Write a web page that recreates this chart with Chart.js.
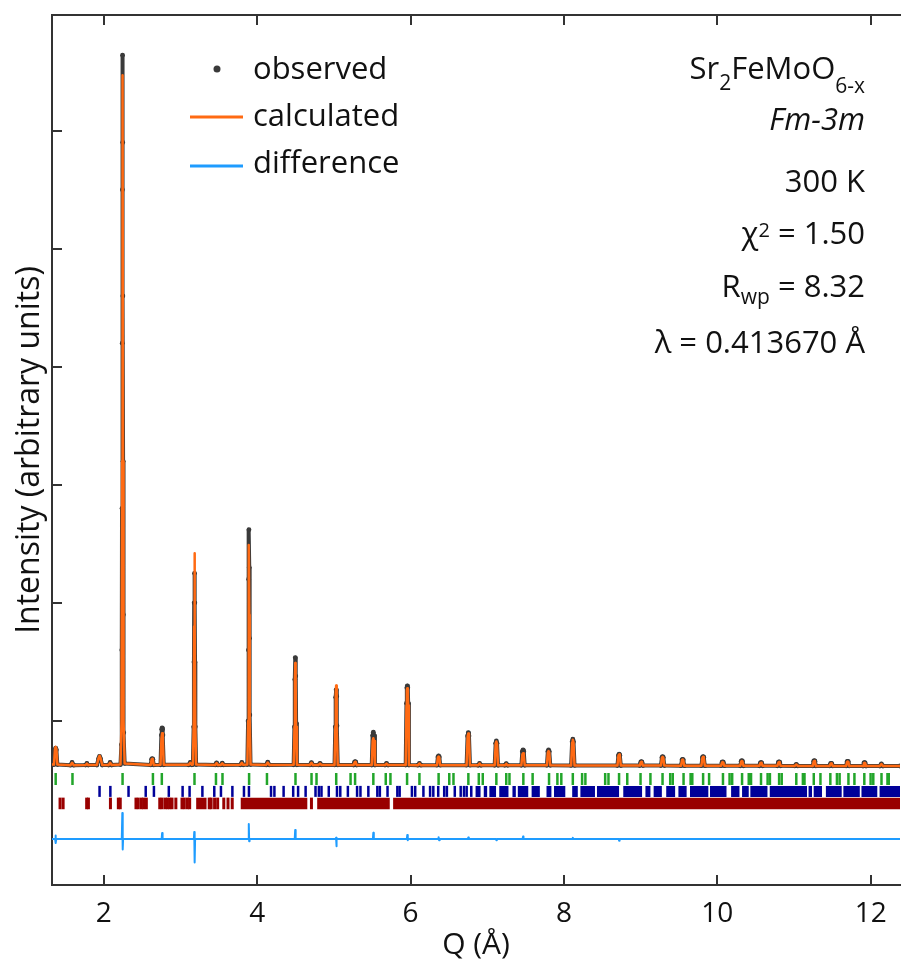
<!DOCTYPE html>
<html>
<head>
<meta charset="utf-8">
<script src="https://cdn.jsdelivr.net/npm/chart.js@4.4.0/dist/chart.umd.min.js"></script>
<style>
  html, body { margin: 0; padding: 0; background: #fff; overflow: hidden; }
  canvas { display: block; }
</style>
</head>
<body>
<canvas id="chart" width="909" height="966"></canvas>
<script>
// axis ranges and ticks
const qRange = [1.325, 12.383];
const yRange = [-0.39, 6.98];
const xTicks = [2, 4, 6, 8, 10, 12];
const yTicks = [1, 2, 3, 4, 5, 6];

const legendLabels = ['observed', 'calculated', 'difference'];

// [Q, intensity]
const observed = [
  [1.325,0.63],[1.351,0.63],[1.364,0.755],[1.373,0.77],[1.382,0.755],[1.395,0.63],
  [1.567,0.625],[1.587,0.648],[1.607,0.625],
  [1.762,0.626],[1.780,0.640],[1.798,0.626],
  [1.910,0.626],[1.932,0.68],[1.945,0.70],[1.958,0.68],[1.980,0.626],
  [2.063,0.626],[2.083,0.648],[2.103,0.626],
  [2.218,0.63],[2.230,0.80],[2.235,1.6],[2.238,2.8],[2.241,4.2],[2.243,5.5],[2.245,6.64],
  [2.247,5.9],[2.249,4.6],[2.252,3.2],[2.255,1.9],[2.260,0.9],[2.272,0.64],
  [2.612,0.627],[2.624,0.675],[2.632,0.68],[2.640,0.675],[2.652,0.627],
  [2.740,0.628],[2.751,0.88],[2.756,0.93],[2.761,0.94],[2.766,0.93],[2.771,0.88],[2.782,0.628],
  [3.108,0.628],[3.128,0.648],[3.148,0.628],
  [3.162,0.63],[3.172,0.95],[3.176,1.5],[3.179,2.0],[3.183,2.25],[3.187,2.0],[3.190,1.5],[3.194,0.95],[3.204,0.63],
  [3.453,0.627],[3.471,0.645],[3.489,0.627],
  [3.527,0.627],[3.545,0.642],[3.563,0.627],
  [3.782,0.628],[3.800,0.648],[3.818,0.628],
  [3.872,0.63],[3.882,1.0],[3.886,1.6],[3.889,2.2],[3.893,2.62],[3.897,2.3],[3.900,1.7],[3.904,1.05],[3.914,0.63],
  [4.118,0.627],[4.138,0.65],[4.158,0.627],
  [4.476,0.628],[4.486,0.95],[4.491,1.35],[4.497,1.536],[4.503,1.38],[4.508,0.98],[4.518,0.628],
  [4.688,0.627],[4.708,0.647],[4.728,0.627],
  [4.802,0.627],[4.820,0.640],[4.838,0.627],
  [5.009,0.627],[5.019,0.95],[5.024,1.2],[5.030,1.263],[5.036,1.21],[5.041,0.96],[5.051,0.627],
  [5.258,0.626],[5.270,0.650],[5.278,0.655],[5.286,0.650],[5.298,0.626],
  [5.494,0.626],[5.506,0.876],[5.515,0.904],[5.524,0.876],[5.536,0.626],
  [5.667,0.626],[5.687,0.640],[5.707,0.626],
  [5.937,0.626],[5.947,1.15],[5.952,1.28],[5.958,1.297],[5.964,1.28],[5.969,1.15],[5.979,0.626],
  [6.097,0.625],[6.116,0.640],[6.135,0.625],
  [6.345,0.625],[6.357,0.695],[6.366,0.703],[6.375,0.695],[6.387,0.625],
  [6.731,0.625],[6.744,0.873],[6.753,0.90],[6.762,0.873],[6.775,0.625],
  [6.882,0.624],[6.900,0.640],[6.918,0.624],
  [7.097,0.624],[7.110,0.81],[7.119,0.83],[7.128,0.81],[7.141,0.624],
  [7.230,0.624],[7.248,0.638],[7.266,0.624],
  [7.445,0.624],[7.458,0.741],[7.467,0.754],[7.476,0.741],[7.489,0.624],
  [7.778,0.624],[7.791,0.741],[7.800,0.754],[7.809,0.741],[7.822,0.624],
  [8.094,0.623],[8.107,0.823],[8.116,0.845],[8.125,0.823],[8.138,0.623],
  [8.698,0.622],[8.711,0.708],[8.720,0.718],[8.729,0.708],[8.742,0.622],
  [8.990,0.622],[9.002,0.650],[9.010,0.655],[9.018,0.650],[9.030,0.622],
  [9.265,0.622],[9.278,0.690],[9.287,0.697],[9.296,0.690],[9.309,0.622],
  [9.527,0.621],[9.540,0.670],[9.548,0.675],[9.556,0.670],[9.569,0.621],
  [9.793,0.621],[9.806,0.690],[9.815,0.697],[9.824,0.690],[9.837,0.621],
  [10.050,0.621],[10.062,0.650],[10.070,0.653],[10.078,0.650],[10.090,0.621],
  [10.300,0.620],[10.312,0.659],[10.320,0.663],[10.328,0.659],[10.340,0.620],
  [10.550,0.620],[10.562,0.644],[10.570,0.647],[10.578,0.644],[10.590,0.620],
  [10.785,0.620],[10.797,0.650],[10.805,0.653],[10.813,0.650],[10.825,0.620],
  [11.010,0.619],[11.030,0.632],[11.050,0.619],
  [11.245,0.619],[11.257,0.659],[11.265,0.663],[11.273,0.659],[11.285,0.619],
  [11.465,0.619],[11.477,0.638],[11.485,0.640],[11.493,0.638],[11.505,0.619],
  [11.680,0.619],[11.692,0.655],[11.700,0.658],[11.708,0.655],[11.720,0.619],
  [11.900,0.618],[11.912,0.644],[11.920,0.647],[11.928,0.644],[11.940,0.618],
  [12.120,0.618],[12.140,0.636],[12.160,0.618],
  [12.383,0.618]
];

const calculated = [
  [1.325,0.63],[1.351,0.63],[1.364,0.765],[1.373,0.78],[1.382,0.765],[1.395,0.63],
  [1.567,0.625],[1.587,0.646],[1.607,0.625],
  [1.762,0.626],[1.780,0.638],[1.798,0.626],
  [1.910,0.626],[1.932,0.685],[1.945,0.705],[1.958,0.685],[1.980,0.626],
  [2.063,0.626],[2.083,0.646],[2.103,0.626],
  [2.218,0.63],[2.232,1.0],[2.239,3.2],[2.245,6.47],[2.251,3.2],[2.258,1.0],[2.272,0.64],
  [2.612,0.627],[2.624,0.673],[2.632,0.678],[2.640,0.673],[2.652,0.627],
  [2.740,0.628],[2.752,0.85],[2.761,0.895],[2.770,0.85],[2.782,0.628],
  [3.108,0.628],[3.128,0.646],[3.148,0.628],
  [3.162,0.63],[3.173,1.0],[3.178,1.8],[3.183,2.42],[3.188,1.8],[3.193,1.0],[3.204,0.63],
  [3.453,0.627],[3.471,0.643],[3.489,0.627],
  [3.527,0.627],[3.545,0.640],[3.563,0.627],
  [3.782,0.628],[3.800,0.646],[3.818,0.628],
  [3.872,0.63],[3.883,1.0],[3.888,1.9],[3.893,2.49],[3.898,1.9],[3.903,1.0],[3.914,0.63],
  [4.118,0.627],[4.138,0.648],[4.158,0.627],
  [4.476,0.628],[4.487,0.95],[4.492,1.35],[4.497,1.49],[4.502,1.35],[4.507,0.95],[4.518,0.628],
  [4.688,0.627],[4.708,0.646],[4.728,0.627],
  [4.802,0.627],[4.820,0.639],[4.838,0.627],
  [5.009,0.627],[5.020,0.95],[5.025,1.23],[5.030,1.30],[5.035,1.23],[5.040,0.95],[5.051,0.627],
  [5.258,0.626],[5.270,0.648],[5.278,0.653],[5.286,0.648],[5.298,0.626],
  [5.494,0.626],[5.506,0.83],[5.515,0.853],[5.524,0.83],[5.536,0.626],
  [5.667,0.626],[5.687,0.639],[5.707,0.626],
  [5.937,0.626],[5.947,1.13],[5.952,1.26],[5.958,1.277],[5.964,1.26],[5.969,1.13],[5.979,0.626],
  [6.097,0.625],[6.116,0.639],[6.135,0.625],
  [6.345,0.625],[6.357,0.690],[6.366,0.698],[6.375,0.690],[6.387,0.625],
  [6.731,0.625],[6.744,0.866],[6.753,0.893],[6.762,0.866],[6.775,0.625],
  [6.882,0.624],[6.900,0.639],[6.918,0.624],
  [7.097,0.624],[7.110,0.805],[7.119,0.825],[7.128,0.805],[7.141,0.624],
  [7.230,0.624],[7.248,0.637],[7.266,0.624],
  [7.445,0.624],[7.458,0.716],[7.467,0.726],[7.476,0.716],[7.489,0.624],
  [7.778,0.624],[7.791,0.733],[7.800,0.745],[7.809,0.733],[7.822,0.624],
  [8.094,0.623],[8.107,0.818],[8.116,0.84],[8.125,0.818],[8.138,0.623],
  [8.698,0.622],[8.711,0.706],[8.720,0.716],[8.729,0.706],[8.742,0.622],
  [8.990,0.622],[9.002,0.648],[9.010,0.653],[9.018,0.648],[9.030,0.622],
  [9.265,0.622],[9.278,0.688],[9.287,0.695],[9.296,0.688],[9.309,0.622],
  [9.527,0.621],[9.540,0.668],[9.548,0.673],[9.556,0.668],[9.569,0.621],
  [9.793,0.621],[9.806,0.688],[9.815,0.695],[9.824,0.688],[9.837,0.621],
  [10.050,0.621],[10.062,0.648],[10.070,0.651],[10.078,0.648],[10.090,0.621],
  [10.300,0.620],[10.312,0.657],[10.320,0.661],[10.328,0.657],[10.340,0.620],
  [10.550,0.620],[10.562,0.642],[10.570,0.645],[10.578,0.642],[10.590,0.620],
  [10.785,0.620],[10.797,0.648],[10.805,0.651],[10.813,0.648],[10.825,0.620],
  [11.010,0.619],[11.030,0.631],[11.050,0.619],
  [11.245,0.619],[11.257,0.657],[11.265,0.661],[11.273,0.657],[11.285,0.619],
  [11.465,0.619],[11.477,0.637],[11.485,0.639],[11.493,0.637],[11.505,0.619],
  [11.680,0.619],[11.692,0.653],[11.700,0.656],[11.708,0.653],[11.720,0.619],
  [11.900,0.618],[11.912,0.642],[11.920,0.645],[11.928,0.642],[11.940,0.618],
  [12.120,0.618],[12.140,0.635],[12.160,0.618],
  [12.383,0.618]
];

const difference = [
  [1.325,0],[1.365,0],[1.370,0.03],[1.376,-0.035],[1.381,0],
  [2.235,0],[2.242,0.22],[2.247,-0.09],[2.252,0],
  [2.755,0],[2.761,0.05],[2.767,0],
  [3.175,0],[3.180,0.06],[3.185,-0.20],[3.191,0],
  [3.885,0],[3.891,0.127],[3.896,-0.02],[3.901,0],
  [4.490,0],[4.496,0.076],[4.502,0],
  [5.024,0],[5.029,0.01],[5.033,-0.062],[5.038,0],
  [5.509,0],[5.515,0.053],[5.521,0],
  [5.952,0],[5.958,0.034],[5.964,-0.01],[5.970,0],
  [6.360,0],[6.366,0.015],[6.372,-0.01],[6.380,0],
  [6.747,0],[6.753,0.012],[6.760,0],
  [7.113,0],[7.119,-0.01],[7.125,0],
  [7.461,0],[7.467,0.02],[7.473,0],
  [8.110,0],[8.116,0.01],[8.122,0],
  [8.714,0],[8.720,-0.015],[8.726,0],
  [12.383,0]
];

// reflection markers (Q positions) for the three phases
const greenTicks = [1.373,1.592,2.245,2.641,2.757,3.183,3.463,3.548,3.895,4.128,4.500,4.709,4.774,5.031,
  5.218,5.277,5.515,5.677,5.738,5.955,6.116,6.366,6.505,6.560,6.754,6.890,6.942,7.119,7.248,7.290,
  7.471,7.592,7.806,7.915,7.966,8.116,8.237,8.280,8.538,8.581,8.719,8.826,8.999,9.128,9.286,9.386,
  9.419,9.560,9.652,9.674,9.815,9.893,10.074,10.160,10.194,10.323,10.410,10.440,10.570,10.656,
  10.686,10.806,10.840,11.030,11.116,11.137,11.258,11.345,11.474,11.560,11.595,11.710,11.788,
  11.917,11.999,12.034,12.141,12.219,12.236];

const blueTicks = [1.945,2.086,2.323,2.547,2.654,2.848,3.028,3.119,3.286,3.441,3.528,3.677,3.828,3.893,
  4.181,4.225,4.345,4.470,4.534,4.632,4.761,4.805,4.839,4.934,5.041,5.084,5.183,5.303,5.347,5.450,
  5.567,5.600,5.700,5.828,5.858,6.018,6.061,6.168,6.255,6.297,6.361,6.439,6.474,6.577,6.654,6.697,
  6.732,6.792];
const blueBands = [[6.848,6.913],[6.955,6.999],[7.028,7.115],[7.157,7.277],[7.329,7.373],[7.399,7.535],
  [7.579,7.686],[7.773,7.837],[7.871,8.018],[8.108,8.181],[8.215,8.405],[8.431,8.719],[8.774,9.019],
  [9.063,9.128],[9.170,9.277],[9.334,9.450],[9.493,9.600],[9.644,9.883],[9.905,10.120],[10.180,10.289],
  [10.323,10.410],[10.431,10.654],[10.684,11.170],[11.190,11.235],[11.257,11.365],[11.416,11.622],
  [11.644,11.858],[11.880,12.086],[12.116,12.383]];

const redTicks = [1.43,1.47,1.777,1.80,2.087,2.19,2.215,2.42,2.45,2.49,2.52,2.555,2.73,2.76,2.80,2.83,
  2.86,2.89,2.94,3.02,3.05,3.09,3.12,3.375,3.40,3.445,3.485,3.565,3.62,3.675,4.708];
const redBands = [[3.205,3.34],[3.786,4.654],[4.783,5.729],[5.773,12.383]];

const FONT = '"Open Sans", "Noto Sans", sans-serif';
const ORANGE = '#ff6a13';
const DARK = '#3a3a3a';
const SKY = '#1e9cff';
const GREEN = '#22a52a';
const NAVY = '#000099';
const MAROON = '#990000';
const AXIS = '#333333';

const rowGreen = 0.508, rowBlue = 0.403, rowRed = 0.301;

const pts = arr => arr.map(p => ({ x: p[0], y: p[1] }));
const tickPts = (arr, row) => arr.map(q => ({ x: q, y: row }));
function bandPts(bands, row) {
  const out = [];
  bands.forEach(b => { out.push({ x: b[0], y: row }, { x: b[1], y: row }, { x: b[1], y: null }); });
  return out;
}

function tickSet(data, color, r, w) {
  return { data, showLine: false, pointStyle: 'line', rotation: 90, pointRadius: r,
    pointBorderColor: color, pointBorderWidth: w, pointBackgroundColor: color };
}
function bandSet(data, color, h) {
  return { data, showLine: true, spanGaps: false, borderColor: color, borderWidth: h,
    borderCapStyle: 'butt', pointRadius: 0 };
}

function drawRuns(ctx, parts, right, base) {
  let w = 0;
  parts.forEach(p => { ctx.font = p.font; w += ctx.measureText(p.t).width; });
  let x = right - w;
  parts.forEach(p => {
    ctx.font = p.font;
    ctx.fillText(p.t, x, base + (p.dy || 0));
    x += ctx.measureText(p.t).width;
  });
}

const overlay = {
  id: 'overlay',
  afterDraw(chart) {
    const ctx = chart.ctx;
    ctx.save();
    ctx.textAlign = 'left';
    ctx.textBaseline = 'alphabetic';

    // legend
    ctx.fillStyle = DARK;
    ctx.beginPath(); ctx.arc(217, 69, 3.5, 0, Math.PI * 2); ctx.fill();
    ctx.lineWidth = 3;
    ctx.strokeStyle = ORANGE;
    ctx.beginPath(); ctx.moveTo(190, 117); ctx.lineTo(243, 117); ctx.stroke();
    ctx.strokeStyle = SKY;
    ctx.beginPath(); ctx.moveTo(190, 166); ctx.lineTo(243, 166); ctx.stroke();
    ctx.fillStyle = '#111';
    ctx.font = '31px ' + FONT;
    ctx.fillText(legendLabels[0], 253, 79);
    ctx.fillText(legendLabels[1], 253, 126);
    ctx.fillText(legendLabels[2], 253, 173);

    // refinement info
    const big = '31px ' + FONT, small = '21px ' + FONT, sup = '20px ' + FONT;
    const R = 865;
    drawRuns(ctx, [{ t: 'Sr', font: big }, { t: '2', font: small, dy: 11 }, { t: 'FeMoO', font: big },
      { t: '6-x', font: small, dy: 14 }], R, 79);
    drawRuns(ctx, [{ t: 'Fm-3m', font: 'italic 31px ' + FONT }], R, 130);
    drawRuns(ctx, [{ t: '300 K', font: big }], R, 192);
    drawRuns(ctx, [{ t: 'χ', font: big }, { t: '2', font: sup, dy: -7 }, { t: ' = 1.50', font: big }], R, 244);
    drawRuns(ctx, [{ t: 'R', font: big }, { t: 'wp', font: small, dy: 7 }, { t: ' = 8.32', font: big }], R, 297);
    drawRuns(ctx, [{ t: 'λ = 0.413670 Å', font: big }], R, 353);
    ctx.restore();
  }
};

const axisGrid = { display: true, drawOnChartArea: false, drawTicks: true, tickLength: -10,
  color: AXIS, lineWidth: 2 };
const axisBorder = { display: true, color: AXIS, width: 2 };

new Chart(document.getElementById('chart'), {
  type: 'scatter',
  data: {
    datasets: [
      { label: legendLabels[1], data: pts(calculated), showLine: true, borderColor: ORANGE,
        borderWidth: 2.5, borderJoinStyle: 'round', pointRadius: 0, tension: 0 },
      { label: legendLabels[0], data: pts(observed), showLine: true, borderColor: DARK,
        borderWidth: 4, borderJoinStyle: 'round', pointRadius: 2.4, pointBackgroundColor: DARK,
        pointBorderWidth: 0, tension: 0 },
      { label: legendLabels[2], data: pts(difference), showLine: true, borderColor: SKY,
        borderWidth: 2, borderJoinStyle: 'round', pointRadius: 0, tension: 0 },
      tickSet(tickPts(greenTicks, rowGreen), GREEN, 6, 2.5),
      tickSet(tickPts(blueTicks, rowBlue), NAVY, 5.5, 2.5),
      bandSet(bandPts(blueBands, rowBlue), NAVY, 11),
      tickSet(tickPts(redTicks, rowRed), MAROON, 5.8, 3),
      bandSet(bandPts(redBands, rowRed), MAROON, 11.5)
    ]
  },
  options: {
    responsive: false,
    animation: false,
    layout: { padding: 0 },
    plugins: { legend: { display: false }, tooltip: { enabled: false } },
    scales: {
      x: {
        type: 'linear', position: 'bottom', min: qRange[0], max: qRange[1],
        afterBuildTicks: s => { s.ticks = xTicks.map(v => ({ value: v })); },
        afterFit: s => { s.height = 81; },
        grid: axisGrid, border: axisBorder,
        ticks: { color: '#111', padding: 22, font: { family: FONT, size: 28 }, callback: v => String(v) },
        title: { display: true, text: 'Q (Å)', color: '#111', padding: { top: 0, bottom: 3 },
          font: { family: FONT, size: 30 } }
      },
      x2: {
        type: 'linear', position: 'top', min: qRange[0], max: qRange[1],
        afterBuildTicks: s => { s.ticks = xTicks.map(v => ({ value: v })); },
        afterFit: s => { s.height = 15; },
        grid: axisGrid, border: axisBorder,
        ticks: { display: false }
      },
      y: {
        type: 'linear', position: 'left', min: yRange[0], max: yRange[1],
        afterBuildTicks: s => { s.ticks = yTicks.map(v => ({ value: v })); },
        afterFit: s => { s.width = 52; },
        grid: axisGrid, border: axisBorder,
        ticks: { display: false },
        title: { display: true, text: 'Intensity (arbitrary units)', color: '#111',
          padding: { top: 11, bottom: 0 }, font: { family: FONT, size: 32 } }
      }
    }
  },
  plugins: [overlay]
});
</script>
</body>
</html>
